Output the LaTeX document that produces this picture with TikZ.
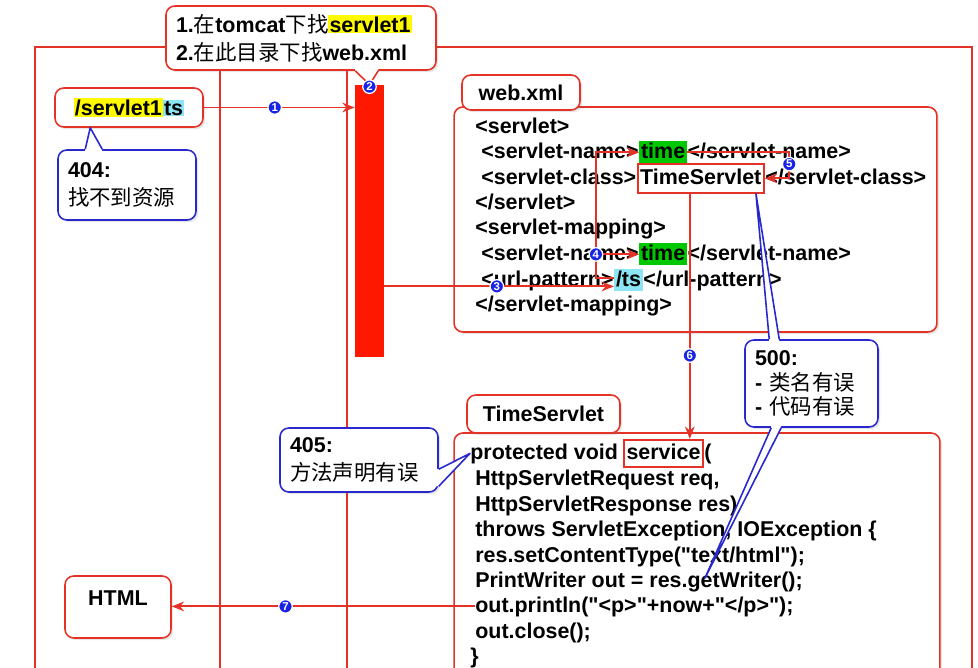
\documentclass[tikz,border=0pt]{standalone}
\usepackage{fontspec}
\setmainfont{Liberation Sans}[Ligatures=TeXOff]
\newfontfamily\cjk{Noto Sans CJK SC}
\newcommand{\zh}[1]{{\cjk\mdseries #1}}
\setlength{\fboxsep}{0.6pt}
\usetikzlibrary{arrows.meta,shadows,calc}

\definecolor{linered}{RGB}{228,50,38}
\definecolor{barred}{RGB}{255,24,0}
\definecolor{calblue}{RGB}{40,40,205}
\definecolor{numblue}{RGB}{25,35,230}
\definecolor{hlgreen}{RGB}{0,200,0}
\definecolor{hlcyan}{RGB}{140,228,245}
\definecolor{hlyellow}{RGB}{255,250,0}

\begin{document}
\begin{tikzpicture}[x=0.02cm, y=-0.02cm,
  font=\bfseries\fontsize{12.2}{14.4}\selectfont,
  redline/.style={draw=linered, line width=1.1pt},
  box/.style={draw=linered, line width=0.9pt, rounded corners=5pt, fill=white, drop shadow={opacity=0.2, shadow xshift=1.2pt, shadow yshift=-1.2pt}},
  bubble/.style={draw=calblue, line width=0.9pt, rounded corners=5pt, fill=white, align=left, inner xsep=0.2cm, font=\bfseries\fontsize{12.2}{16}\selectfont, drop shadow={opacity=0.2, shadow xshift=1.2pt, shadow yshift=-1.2pt}},
  tail/.style={draw=calblue, line width=0.9pt, line join=round},
  code/.style={inner sep=0pt, text height=10pt, text depth=2.5pt, anchor=base west},
  hilite/.style={code, inner xsep=1pt},
  frametext/.style={code, draw=linered, line width=1.1pt, inner xsep=1.5pt},
  flow/.style={draw=linered, line width=1.1pt, -{Stealth[length=7pt, width=5.5pt]}},
  num/.style={circle, fill=numblue, draw=white, line width=0.7pt, text=white, inner sep=0pt, minimum size=0.27cm, font=\fontsize{6.5}{6.5}\selectfont\bfseries}]

\useasboundingbox (0,0) rectangle (978,668);
\clip (0,0) rectangle (978,668);

\draw[redline] (35,680) -- (35,47) -- (972,47) -- (972,680);
\draw[redline] (220,70) -- (220,680);
\draw[redline] (347,70) -- (347,680);

\path (369.5,221) node[fill=barred, inner sep=0pt, minimum width=0.58cm, minimum height=5.44cm] (bar) {};

\path (695.5,219.5) node[box, minimum width=9.66cm, minimum height=4.5cm] (xml-box) {};
\path (521,92.5) node[box, minimum width=2.36cm, minimum height=0.7cm] (xml-label) {web.xml};
\path (697,566.5) node[box, minimum width=9.72cm, minimum height=5.34cm] (code-box) {};
\path (543.5,414) node[box, minimum width=3.06cm, minimum height=0.76cm] (code-label) {TimeServlet};
\path (129,107.5) node[box, minimum width=2.96cm, minimum height=0.78cm] (url) {\colorbox{hlyellow}{/servlet1}\colorbox{hlcyan}{ts}};
\path (118,607) node[box, minimum width=2.12cm, minimum height=1.24cm, text depth=0.36cm] (html) {HTML};

\path (301,38) node[box, align=left, text width=5cm, inner xsep=0.2cm, minimum height=1.28cm, font=\bfseries\fontsize{12.2}{16}\selectfont] (find-call) {1.\zh{在}tomcat\zh{下找}\colorbox{hlyellow}{servlet1}\\2.\zh{在此目录下找}web.xml};
\path (127,185) node[bubble, text width=2.36cm, minimum height=1.4cm] (call-404) {404:\\\zh{找不到资源}};
\path (359,460) node[bubble, text width=2.76cm, minimum height=1.28cm] (call-405) {405:\\\zh{方法声明有误}};
\path (811.5,383.5) node[bubble, text width=2.26cm, minimum height=1.74cm, font=\bfseries\fontsize{12.2}{13.8}\selectfont] (call-500) {500:\\- \zh{类名有误}\\- \zh{代码有误}};

\path (475,134) node[code] (xml-l1) {<servlet>};
\path (481,159) node[code] (xml-l2) {<servlet-name>};
\path (xml-l2.base east) node[hilite, fill=hlgreen] (time-a) {time};
\path (time-a.base east) node[code] (xml-l2b) {</servlet-name>};
\path (481,185) node[code] (xml-l3) {<servlet-class>};
\path (xml-l3.base east) node[frametext, inner ysep=2pt] (class-name) {TimeServlet};
\path (class-name.base east) node[code] (xml-l3b) {</servlet-class>};
\path (475,210) node[code] (xml-l4) {</servlet>};
\path (475,235) node[code] (xml-l5) {<servlet-mapping>};
\path (481,261) node[code] (xml-l6) {<servlet-name>};
\path (xml-l6.base east) node[hilite, fill=hlgreen] (time-b) {time};
\path (time-b.base east) node[code] (xml-l6b) {</servlet-name>};
\path (481,287) node[code] (xml-l7) {<url-pattern>};
\path (xml-l7.base east) node[hilite, fill=hlcyan] (ts) {/ts};
\path (ts.base east) node[code] (xml-l7b) {</url-pattern>};
\path (475,312) node[code] (xml-l8) {</servlet-mapping>};

\path (470,460) node[code] (code-l1) {protected void};
\path ([xshift=2.6pt]code-l1.base east) node[frametext, inner ysep=1.5pt] (service) {service};
\path (service.base east) node[code] (code-l1b) {(};
\path (475,486) node[code] (code-l2) {HttpServletRequest req,};
\path (475,512) node[code] (code-l3) {HttpServletResponse res)};
\path (475,537) node[code] (code-l4) {throws ServletException, IOException \{};
\path (475,563) node[code] (code-l5) {res.setContentType("text/html");};
\path (475,588) node[code] (code-l6) {PrintWriter out = res.getWriter();};
\path (475,613) node[code] (code-l7) {out.println("<p>"+now+"</p>");};
\path (475,639) node[code] (code-l8) {out.close();};
\path (470,664) node[code] (code-l9) {\}};

\coordinate (tip-404) at ($(url.south west)+(36,0)$);
\coordinate (tip-500a) at ([xshift=-0.18cm]class-name.south east);
\coordinate (tip-500b) at (705,578);

\fill[white] ($(find-call.south west)+(190,-3)$) -- ($(find-call.south west)+(190,0)$) -- (bar.north) -- ($(find-call.south west)+(213,0)$) -- ($(find-call.south west)+(213,-3)$) -- cycle;
\draw[redline, line width=0.9pt, line join=round] ($(find-call.south west)+(190,0)$) -- (bar.north) -- ($(find-call.south west)+(213,0)$);
\fill[white] ($(call-404.north west)+(28,3)$) -- ($(call-404.north west)+(28,0)$) -- (tip-404) -- ($(call-404.north west)+(45,0)$) -- ($(call-404.north west)+(45,3)$) -- cycle;
\draw[tail] ($(call-404.north west)+(28,0)$) -- (tip-404) -- ($(call-404.north west)+(45,0)$);
\fill[white] ($(call-405.north east)+(-3,42)$) -- ($(call-405.north east)+(0,42)$) -- (code-l1.west) -- ($(call-405.north east)+(0,59)$) -- ($(call-405.north east)+(-3,59)$) -- cycle;
\draw[tail] ($(call-405.north east)+(0,42)$) -- (code-l1.west) -- ($(call-405.north east)+(0,59)$);
\fill[white] ($(call-500.north west)+(25,3)$) -- ($(call-500.north west)+(25,0)$) -- (tip-500a) -- ($(call-500.north west)+(35,0)$) -- ($(call-500.north west)+(35,3)$) -- cycle;
\draw[tail] ($(call-500.north west)+(25,0)$) -- (tip-500a) -- ($(call-500.north west)+(35,0)$);
\fill[white] ($(call-500.south west)+(27,-3)$) -- ($(call-500.south west)+(27,0)$) -- (tip-500b) -- ($(call-500.south west)+(37,0)$) -- ($(call-500.south west)+(37,-3)$) -- cycle;
\draw[tail] ($(call-500.south west)+(27,0)$) -- (tip-500b) -- ($(call-500.south west)+(37,0)$);

\coordinate (ts-in) at ([yshift=-0.12cm]ts.west);
\coordinate (ts-out) at ([yshift=0.05cm]ts.west);

\draw[flow] (url.east) -- (url.east -| bar.west) node[num, pos=0.47] (n1) {1};
\draw[flow] (bar.east |- ts-in) -- (ts-in) node[num, pos=0.49] (n3) {3};
\draw[flow] (ts-out) -- ++(-18,0) coordinate (k4) |- (time-b.west);
\draw[flow] (k4) |- (time-a.west);
\draw[flow] (time-a.east) -- ++(102,0) coordinate (k5) |- (class-name.east);
\draw[flow] ([xshift=-0.22cm]class-name.south) -- ([xshift=-0.22cm]class-name.south |- service.north) node[num, pos=0.66] (n6) {6};
\draw[flow] (code-l7.west) -- (code-l7.west -| html.east) node[num, pos=0.625] (n7) {7};

\path ([yshift=-0.04cm]bar.north) node[num] (n2) {2};
\path (k4 |- time-b.west) node[num] (n4) {4};
\path ($(k5)!0.45!(k5 |- class-name.east)$) node[num] (n5) {5};

\end{tikzpicture}
\end{document}
